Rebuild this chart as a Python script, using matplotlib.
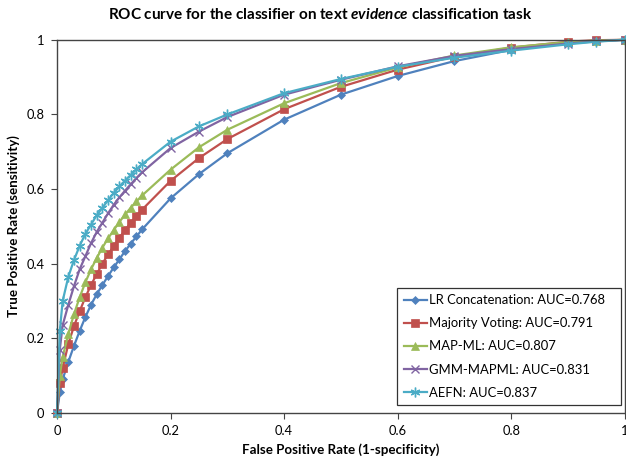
import matplotlib
matplotlib.use("Agg")
import matplotlib.pyplot as plt

plt.rcParams['font.family'] = ['Lato', 'DejaVu Sans']
plt.rcParams['mathtext.fontset'] = 'custom'
plt.rcParams['mathtext.it'] = 'Lato:italic:bold'

fpr = [0, 0.005, 0.01, 0.02, 0.03, 0.04, 0.05, 0.06, 0.07, 0.08, 0.09, 0.10,
       0.11, 0.12, 0.13, 0.14, 0.15, 0.2, 0.25, 0.3, 0.4, 0.5, 0.6, 0.7,
       0.8, 0.9, 0.95, 1.0]

lr_concat = [0, 0.055, 0.09, 0.137, 0.18, 0.22, 0.257, 0.29, 0.318, 0.343, 0.367, 0.39,
             0.412, 0.434, 0.454, 0.473, 0.492, 0.575, 0.64, 0.696, 0.786, 0.853, 0.903, 0.943,
             0.973, 0.991, 0.997, 1.0]
majority = [0, 0.08, 0.12, 0.185, 0.233, 0.273, 0.31, 0.343, 0.372, 0.40, 0.425, 0.447,
            0.47, 0.49, 0.51, 0.528, 0.545, 0.622, 0.683, 0.734, 0.814, 0.874, 0.92, 0.955,
            0.979, 0.995, 0.999, 1.0]
map_ml = [0, 0.10, 0.15, 0.212, 0.265, 0.31, 0.35, 0.385, 0.415, 0.443, 0.468, 0.49,
          0.512, 0.532, 0.55, 0.567, 0.583, 0.652, 0.712, 0.759, 0.83, 0.884, 0.926, 0.958,
          0.98, 0.994, 0.998, 1.0]
gmm_mapml = [0, 0.17, 0.235, 0.29, 0.34, 0.385, 0.42, 0.455, 0.485, 0.51, 0.535, 0.558,
             0.578, 0.596, 0.613, 0.63, 0.645, 0.71, 0.754, 0.793, 0.853, 0.893, 0.929, 0.957,
             0.975, 0.99, 0.996, 1.0]
aefn = [0, 0.22, 0.30, 0.365, 0.41, 0.448, 0.48, 0.505, 0.53, 0.55, 0.57, 0.59,
        0.607, 0.623, 0.638, 0.653, 0.667, 0.727, 0.768, 0.80, 0.857, 0.895, 0.928, 0.952,
        0.971, 0.988, 0.995, 1.0]

labels = ["LR Concatenation: AUC=0.768", "Majority Voting: AUC=0.791",
          "MAP-ML: AUC=0.807", "GMM-MAPML: AUC=0.831", "AEFN: AUC=0.837"]
series = [lr_concat, majority, map_ml, gmm_mapml, aefn]
colors = ['#4F81BD', '#C0504D', '#9BBB59', '#8064A2', '#4BACC6']
markers = ['D', 's', '^', 'x', (6, 2, 0)]
msizes = [4, 6, 6, 6, 7]

fig = plt.figure(figsize=(6.26, 4.63), dpi=100)
ax = fig.add_axes([0.091, 0.108, 0.907, 0.806])

for y, lab, c, m, ms in zip(series, labels, colors, markers, msizes):
    ax.plot(fpr, y, color=c, marker=m, markersize=ms, linewidth=1.6,
            markeredgewidth=1.0 if m == 'x' or isinstance(m, tuple) else 0.5,
            markeredgecolor=c, label=lab, clip_on=False)

ax.set_xlim(0, 1)
ax.set_ylim(0, 1)
ax.set_xticks([0, 0.2, 0.4, 0.6, 0.8, 1])
ax.set_yticks([0, 0.2, 0.4, 0.6, 0.8, 1])
ax.set_xticklabels(["0", "0.2", "0.4", "0.6", "0.8", "1"])
ax.set_yticklabels(["0", "0.2", "0.4", "0.6", "0.8", "1"])
ax.tick_params(labelsize=9.3, length=4, width=0.8, color='#444444', pad=5)
for s in ax.spines.values():
    s.set_color('#444444')
    s.set_linewidth(1.0)

ax.set_xlabel("False Positive Rate (1-specificity)", fontsize=9.6, fontweight='bold', labelpad=4)
ax.set_ylabel("True Positive Rate (sensitivity)", fontsize=9.6, fontweight='bold', labelpad=5)
fig.suptitle(r"ROC curve for the classifier on text $evidence$ classification task",
             fontsize=11, fontweight='bold', x=0.512, y=0.985)

leg = ax.legend(loc='lower left', bbox_to_anchor=(0.599, 0.021, 0.394, 0.332), mode='expand',
                fontsize=9.4, frameon=True, fancybox=False, edgecolor='black',
                borderaxespad=0, handlelength=1.8, handletextpad=0.15, labelspacing=0.85,
                borderpad=0.5)
leg.get_frame().set_linewidth(0.9)

fig.savefig("out.png", dpi=100)
